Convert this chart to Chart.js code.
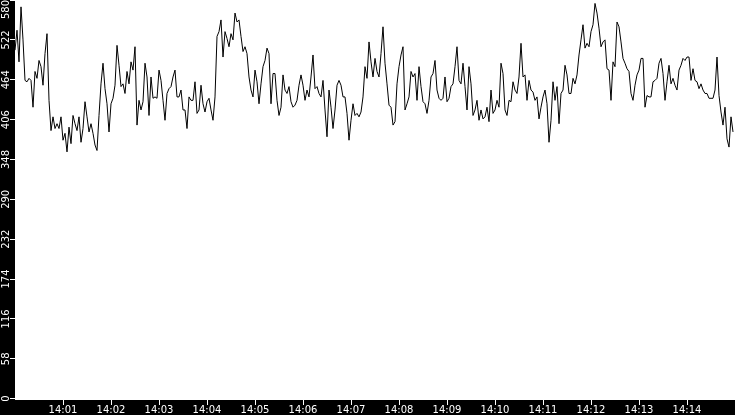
<!DOCTYPE html>
<html>
<head>
<meta charset="utf-8">
<script src="https://cdn.jsdelivr.net/npm/chart.js@4.4.1/dist/chart.umd.min.js"></script>
<style>
  html, body { margin: 0; padding: 0; background: #000; }
  canvas { display: block; }
</style>
</head>
<body>
<canvas id="loadChart" width="735" height="415"></canvas>
<script>
// one sample every 2.5 s, 14:00:00 .. 14:14:57
const sampleStep = 2.5;
const values = [
  507,536,490,570,522,463,461,466,463,424,476,466,492,483,456,502,531,434,390,410,393,400,393,410,376,386,359,395,371,412,400,390,410,373,393,432,410,388,400,386,369,361,412,458,488,
  451,429,388,429,437,456,514,485,454,458,444,476,458,490,478,512,398,434,420,432,488,468,412,468,437,439,437,478,463,434,405,444,451,454,468,478,439,439,449,420,420,393,439,434,434,
  461,415,420,456,429,417,432,437,420,405,439,527,534,551,497,534,524,512,531,522,561,548,551,527,505,512,502,468,449,439,478,461,429,458,483,492,510,502,429,473,473,434,412,424,471,
  449,444,454,432,424,427,434,456,471,456,434,449,439,468,500,451,454,444,439,463,420,381,449,424,393,420,456,463,456,439,439,415,376,405,429,412,415,410,417,439,483,466,519,490,468,
  495,476,468,502,541,488,458,427,424,398,403,458,483,500,512,420,429,439,476,468,473,434,483,454,432,429,415,434,468,473,492,449,437,434,437,468,432,437,454,458,483,512,463,458,488,
  454,420,483,458,412,420,434,405,420,407,410,424,403,449,415,420,434,424,488,473,420,412,434,432,461,449,444,468,517,468,471,434,463,449,446,434,439,407,424,439,449,429,373,405,461,
  434,454,400,444,449,485,471,444,444,466,458,471,500,522,544,510,517,512,534,544,575,561,539,512,519,522,480,478,434,490,483,548,541,519,495,488,480,476,444,434,456,471,478,495,495,
  424,441,439,439,461,463,466,488,495,473,434,461,485,458,466,456,449,478,485,495,492,497,497,463,480,463,461,451,458,449,444,444,437,437,437,449,497,441,417,398,424,378,366,410,388
];

const yTicks = [0, 58, 116, 174, 232, 290, 348, 406, 464, 522, 580];
const xTicks = [60, 120, 180, 240, 300, 360, 420, 480, 540, 600, 660, 720, 780, 840];
const xLabels = ['14:01', '14:02', '14:03', '14:04', '14:05', '14:06', '14:07',
                 '14:08', '14:09', '14:10', '14:11', '14:12', '14:13', '14:14'];

const points = values.map((v, i) => ({ x: i * sampleStep, y: v }));

const labelFont = '10px "DejaVu Sans"';

const panelBackground = {
  id: 'panelBackground',
  beforeDraw(chart) {
    const { ctx, chartArea } = chart;
    ctx.save();
    ctx.fillStyle = '#000';
    ctx.fillRect(0, 0, chart.width, chart.height);
    ctx.fillStyle = '#fff';
    ctx.fillRect(chartArea.left, chartArea.top, chartArea.right - chartArea.left, chartArea.bottom - chartArea.top);
    ctx.restore();
  }
};

// y labels are rotated, which chart.js does not do for vertical axes
const rotatedYLabels = {
  id: 'rotatedYLabels',
  afterDraw(chart) {
    const { ctx } = chart;
    const yScale = chart.scales.y;
    ctx.save();
    ctx.font = labelFont;
    ctx.fillStyle = '#fff';
    ctx.textAlign = 'center';
    ctx.textBaseline = 'middle';
    yTicks.forEach((v) => {
      const text = String(v);
      const half = ctx.measureText(text).width / 2;
      const y = Math.max(yScale.getPixelForValue(v), half);
      ctx.save();
      ctx.translate(6, y);
      ctx.rotate(-Math.PI / 2);
      ctx.fillText(text, 0, 0);
      ctx.restore();
    });
    ctx.restore();
  }
};

const ctx = document.getElementById('loadChart').getContext('2d');
new Chart(ctx, {
  type: 'line',
  data: {
    datasets: [{
      data: points,
      borderColor: '#000',
      borderWidth: 1,
      pointRadius: 0,
      tension: 0,
      fill: false
    }]
  },
  options: {
    responsive: false,
    animation: false,
    devicePixelRatio: 1,
    layout: { padding: 0 },
    plugins: {
      legend: { display: false },
      tooltip: { enabled: false }
    },
    scales: {
      x: {
        type: 'linear',
        min: 0,
        max: 900,
        afterBuildTicks: (scale) => { scale.ticks = xTicks.map(v => ({ value: v })); },
        afterFit: (scale) => { scale.height = 15; },
        border: { display: false },
        grid: {
          drawOnChartArea: false,
          drawTicks: true,
          tickLength: 5,
          color: '#fff',
          lineWidth: 1
        },
        ticks: {
          color: '#fff',
          font: { family: 'DejaVu Sans', size: 10 },
          padding: -1,
          maxRotation: 0,
          autoSkip: false,
          callback: (value) => {
            const i = xTicks.indexOf(value);
            return i >= 0 ? xLabels[i] : '';
          }
        }
      },
      y: {
        min: -2,
        max: 580,
        afterBuildTicks: (scale) => { scale.ticks = yTicks.map(v => ({ value: v })); },
        afterFit: (scale) => { scale.width = 15; },
        border: { display: false },
        grid: {
          drawOnChartArea: false,
          drawTicks: true,
          tickLength: 5,
          color: '#fff',
          lineWidth: 1
        },
        ticks: { display: false }
      }
    }
  },
  plugins: [panelBackground, rotatedYLabels]
});
</script>
</body>
</html>
